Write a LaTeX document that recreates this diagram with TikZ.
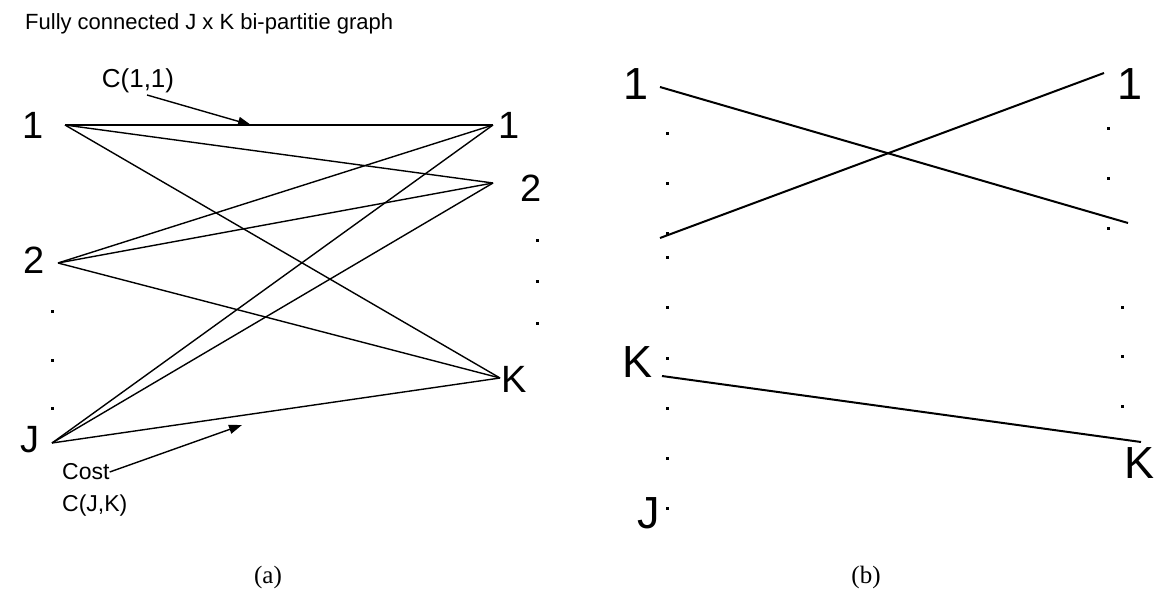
\documentclass[tikz,border=0pt]{standalone}
\usepackage{fontspec}
\setmainfont{Liberation Sans}
\newfontfamily\capfont{Liberation Serif}
\usetikzlibrary{arrows.meta}
\tikzset{
  lblA/.style={inner sep=0pt, font=\fontsize{38}{38}\selectfont},
  lblB/.style={inner sep=0pt, font=\fontsize{45}{45}\selectfont},
  txt/.style={inner sep=0pt, font=\fontsize{24}{28}\selectfont},
  capt/.style={inner sep=0pt, font=\capfont\fontsize{25}{25}\selectfont},
  edgeA/.style={line width=1.4pt},
  edgeB/.style={line width=2pt},
  arr/.style={line width=1.4pt, -{Triangle[length=13pt,width=9pt]}},
  dotn/.style={fill=black, inner sep=0pt, minimum size=3pt, rectangle}
}
\begin{document}
\begin{tikzpicture}[x=1pt,y=-1pt]
\useasboundingbox (0,0) rectangle (1176,605);
% title
\node[inner sep=0pt, anchor=base west, font=\fontsize{22}{22}\selectfont] (title) at (25,29) {Fully connected J x K bi-partitie graph};
% ---------- panel (a) ----------
\node[lblA] (a1) at (33,125) {1};
\node[lblA] (a2) at (34,260) {2};
\node[lblA] (aJ) at (30,440) {J};
\node[lblA] (b1) at (509,125) {1};
\node[lblA] (b2) at (531,188) {2};
\node[lblA] (bK) at (514,379) {K};
\coordinate (pL1) at (65,125);
\coordinate (pL2) at (58,263);
\coordinate (pLJ) at (52,443);
\coordinate (pR1) at (493,125);
\coordinate (pR2) at (493,183);
\coordinate (pRK) at (500,378);
\foreach \l in {pL1,pL2,pLJ}{
  \foreach \r in {pR1,pR2,pRK}{
    \draw[edgeA] (\l) -- (\r);
  }
}
\node[dotn] (ad1) at (52,311) {};
\node[dotn] (ad2) at (52,360) {};
\node[dotn] (ad3) at (52,408) {};
\node[dotn] (bd1) at (537,240) {};
\node[dotn] (bd2) at (537,281) {};
\node[dotn] (bd3) at (537,323) {};
% cost labels
\node[txt, font=\fontsize{26}{30}\selectfont] (c11) at (138,81) {C(1,1)};
\coordinate (c11s) at (147,95);
\coordinate (c11t) at (251,125);
\draw[arr] (c11s) -- (c11t);
\node[txt, anchor=west, font=\fontsize{23}{27}\selectfont] (cost) at (62,472) {Cost};
\node[txt, anchor=west, font=\fontsize{23}{27}\selectfont] (cjk) at (62,506) {C(J,K)};
\coordinate (costt) at (242,425);
\draw[arr] (cost.east) -- (costt);
\node[capt] (capa) at (268,577) {(a)};
% ---------- panel (b) ----------
\node[lblB] (q1) at (636,84) {1};
\node[lblB] (r1) at (1130,84) {1};
\node[lblB] (qK) at (638,362) {K};
\node[lblB] (qJ) at (649,513) {J};
\node[lblB] (rK) at (1139,463) {K};
\coordinate (qa) at (660,87);
\coordinate (qaE) at (1128,223);
\coordinate (qb) at (1104,73);
\coordinate (qbE) at (660,238);
\coordinate (qk) at (662,376);
\coordinate (qkE) at (1141,442);
\draw[edgeB] (qa) -- (qaE);
\draw[edgeB] (qb) -- (qbE);
\draw[edgeB] (qk) -- (qkE);
\foreach \y [count=\i] in {133,183,233,257,307,358,408,458,508}{
  \node[dotn] (ld\i) at (667,\y) {};
}
\foreach \y [count=\i] in {128,178,228}{
  \node[dotn] (rd\i) at (1108,\y) {};
}
\foreach \y [count=\i] in {307,356,406}{
  \node[dotn] (re\i) at (1122,\y) {};
}
\node[capt] (capb) at (866,577) {(b)};
\end{tikzpicture}
\end{document}
